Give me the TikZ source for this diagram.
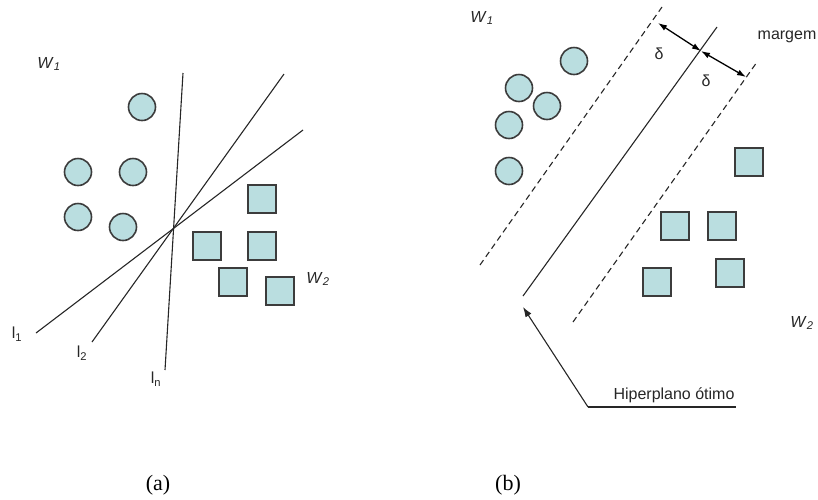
\documentclass[tikz,border=0pt]{standalone}
\usepackage{fontspec}
\setmainfont{Liberation Sans}
\newfontfamily\capfont{Liberation Serif}
\usetikzlibrary{arrows.meta}
\definecolor{dotfill}{RGB}{186,222,224}
\definecolor{dotline}{RGB}{60,60,60}
\tikzset{cw/.style={circle,draw=dotline,fill=dotfill,line width=1.6pt,minimum size=27pt,inner sep=0pt},
 sq/.style={rectangle,draw=dotline,fill=dotfill,line width=1.6pt,minimum size=27.5pt,inner sep=0pt},
 hl/.style={line width=1.1pt,draw=black!85},
 dl/.style={hl,dash pattern=on 6pt off 4pt},
 dbl/.style={{Latex[length=9pt,width=6pt]}-{Latex[length=9pt,width=6pt]},line width=1.3pt},
 lab/.style={font=\fontsize{16}{18}\selectfont,inner sep=1pt,text=black!85},
 subcap/.style={font=\capfont\fontsize{22}{24}\selectfont}}
\begin{document}
\begin{tikzpicture}[x=1pt,y=-1pt]
\useasboundingbox (0,0) rectangle (818,499);
% (a) several separating lines
\coordinate (ca) at (173,228);
\coordinate (ln1) at (183,73);\coordinate (ln2) at (165,370);
\coordinate (lb1) at (284,74);\coordinate (lb2) at (92,342);
\coordinate (la1) at (303,130);\coordinate (la2) at (36,333);
\draw[hl] (ln1)--(ln2);\draw[hl] (lb1)--(lb2);\draw[hl] (la1)--(la2);
\foreach \n/\x/\y in {a1/142/107,a2/78/172,a3/133/172,a4/78/217,a5/123/227}
 {\node[cw] (\n) at (\x,\y) {};}
\foreach \n/\x/\y in {b1/262/199,b2/207/246,b3/262/246,b4/233/282,b5/280/291}
 {\node[sq] (\n) at (\x,\y) {};}
\node[lab] (wa1) at (49,64) {\textit{W}\textsubscript{\textit{1}}};
\node[lab] (wa2) at (318,279) {\textit{W}\textsubscript{\textit{2}}};
\node[lab] (l1) at (17,334) {l\textsubscript{1}};
\node[lab] (l2) at (82,353) {l\textsubscript{2}};
\node[lab] (lnn) at (156,379) {l\textsubscript{n}};
\node[subcap] (capa) at (158,485) {(a)};
% (b) optimal hyperplane with margin
\coordinate (h1) at (523,296);\coordinate (h2) at (717,27);
\coordinate (p1) at (480,265);\coordinate (p2) at (662,7);
\coordinate (q1) at (573,322);\coordinate (q2) at (757,62);
\draw[hl] (h1)--(h2);\draw[dl] (p1)--(p2);\draw[dl] (q1)--(q2);
\coordinate (m0) at (658,23);\coordinate (mc) at (701,51);\coordinate (m1) at (746,77);
\draw[dbl] (m0)--(mc);\draw[dbl] (mc)--(m1);
\foreach \n/\x/\y in {c1/574/61,c2/519/88,c3/547/106,c4/509/125,c5/509/171}
 {\node[cw] (\n) at (\x,\y) {};}
\foreach \n/\x/\y in {d1/749/162,d2/675/226,d3/722/226,d4/730/273,d5/657/282}
 {\node[sq] (\n) at (\x,\y) {};}
\node[lab] (wb1) at (482,18) {\textit{W}\textsubscript{\textit{1}}};
\node[lab] (wb2) at (802,323) {\textit{W}\textsubscript{\textit{2}}};
\node[lab] (dl1) at (659,54) {δ};
\node[lab] (dl2) at (706,81) {δ};
\node[lab] (mg) at (787,37) {margem};
\coordinate (hk) at (588,407);\coordinate (he) at (736,407);\coordinate (ht) at (523,307);
\draw[hl,-{Latex[length=10pt,width=7pt]}] (hk)--(ht);
\draw[hl] (hk)--(he);
\node[lab,anchor=south] (hip) at (674,404) {Hiperplano ótimo};
\node[subcap] (capb) at (508,485) {(b)};
\end{tikzpicture}
\end{document}
